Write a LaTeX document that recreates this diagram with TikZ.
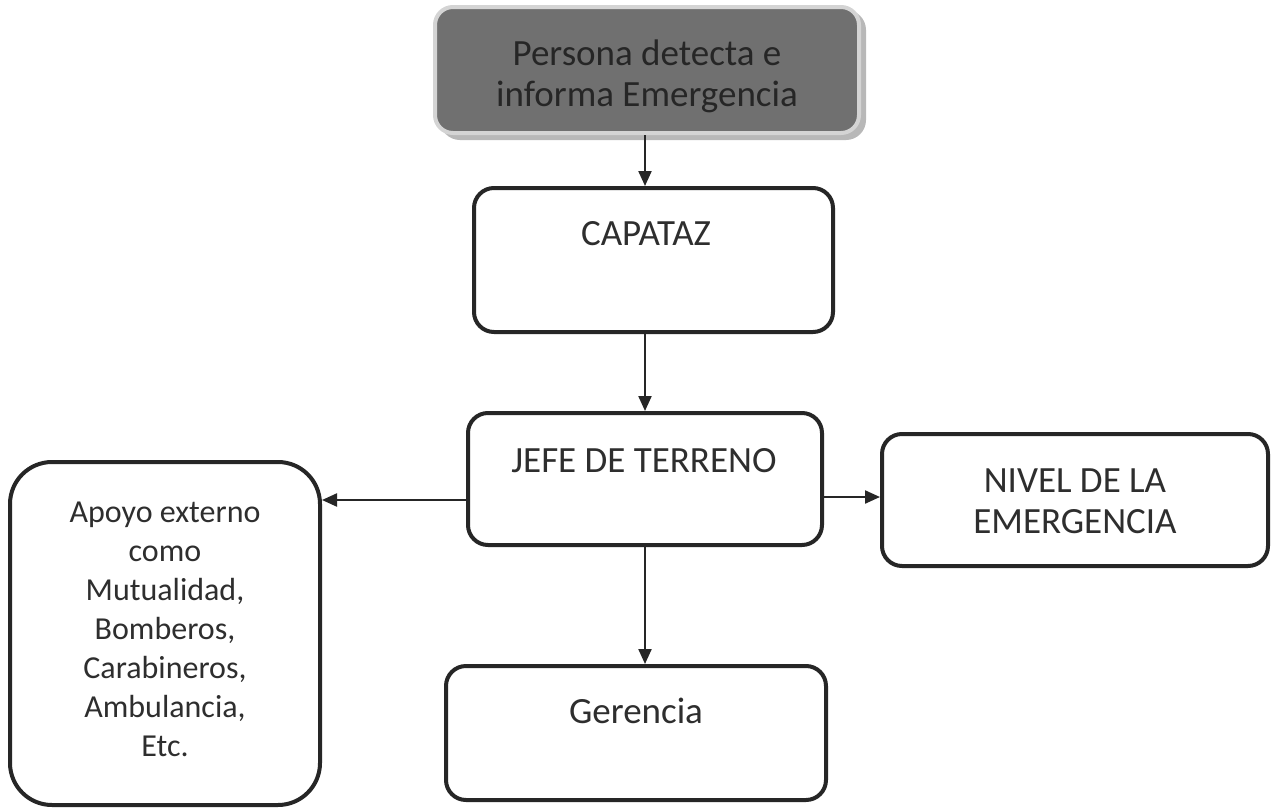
\documentclass[tikz,border=0pt]{standalone}
\usepackage{fontspec}
\setmainfont{Carlito}
\usetikzlibrary{arrows.meta}
\definecolor{ink}{HTML}{262626}
\definecolor{txt}{HTML}{2E2E2E}
\definecolor{topfill}{HTML}{707070}
\definecolor{topedge}{HTML}{D4D4D4}
\definecolor{shadowc}{HTML}{B8B8B8}
\tikzset{
  box/.style={draw=ink, line width=4pt, rounded corners=20pt, fill=white},
  lbl/.style={text=txt, font=\fontsize{37}{41}\selectfont, align=center, inner sep=0pt},
  small/.style={font=\fontsize{32}{39}\selectfont},
  conn/.style={draw=ink, line width=2.2pt, -{Triangle[length=15pt,width=13pt]}},
}
\begin{document}
\begin{tikzpicture}[x=1pt,y=-1pt]
\useasboundingbox (0,0) rectangle (1278,809);
\fill[white] (0,0) rectangle (1278,809);
% top box
\fill[shadowc, rounded corners=20pt] (440,10) rectangle (866,140);
\node[draw=topedge, line width=4pt, fill=topfill, rounded corners=18pt,
      minimum width=424pt, minimum height=126pt] (top) at (647,70) {};
\node[lbl, text=ink] (topT) at (647,76) {Persona detecta e\\informa Emergencia};
% capataz
\node[box, minimum width=359pt, minimum height=144pt] (cap) at (653.5,260) {};
\node[lbl] (capT) at (646,234) {CAPATAZ};
% jefe
\node[box, minimum width=354pt, minimum height=132pt] (jefe) at (645,479) {};
\node[lbl] (jefeT) at (644,461) {JEFE DE TERRENO};
% apoyo
\node[box, rounded corners=42pt, minimum width=310pt, minimum height=343pt] (apo) at (165,633.5) {};
\node[lbl, small] (apoT) at (165,629) {Apoyo externo\\como\\Mutualidad,\\Bomberos,\\Carabineros,\\Ambulancia,\\Etc.};
% nivel
\node[box, minimum width=386pt, minimum height=132pt] (niv) at (1075,500) {};
\node[lbl] (nivT) at (1075,501) {NIVEL DE LA\\EMERGENCIA};
% gerencia
\node[box, minimum width=380pt, minimum height=134pt] (ger) at (636,733) {};
\node[lbl] (gerT) at (636,711) {Gerencia};
% connectors
\coordinate (c1) at (645,0);
\draw[conn] (top.south -| c1) -- (cap.north -| c1);
\draw[conn] (cap.south -| c1) -- (jefe.north -| c1);
\draw[conn] (jefe.south -| c1) -- (ger.north -| c1);
\coordinate (h1) at (0,500);
\draw[conn] (jefe.west |- h1) -- (apo.east |- h1);
\coordinate (h2) at (0,497);
\draw[conn] (jefe.east |- h2) -- (niv.west |- h2);
\end{tikzpicture}
\end{document}
